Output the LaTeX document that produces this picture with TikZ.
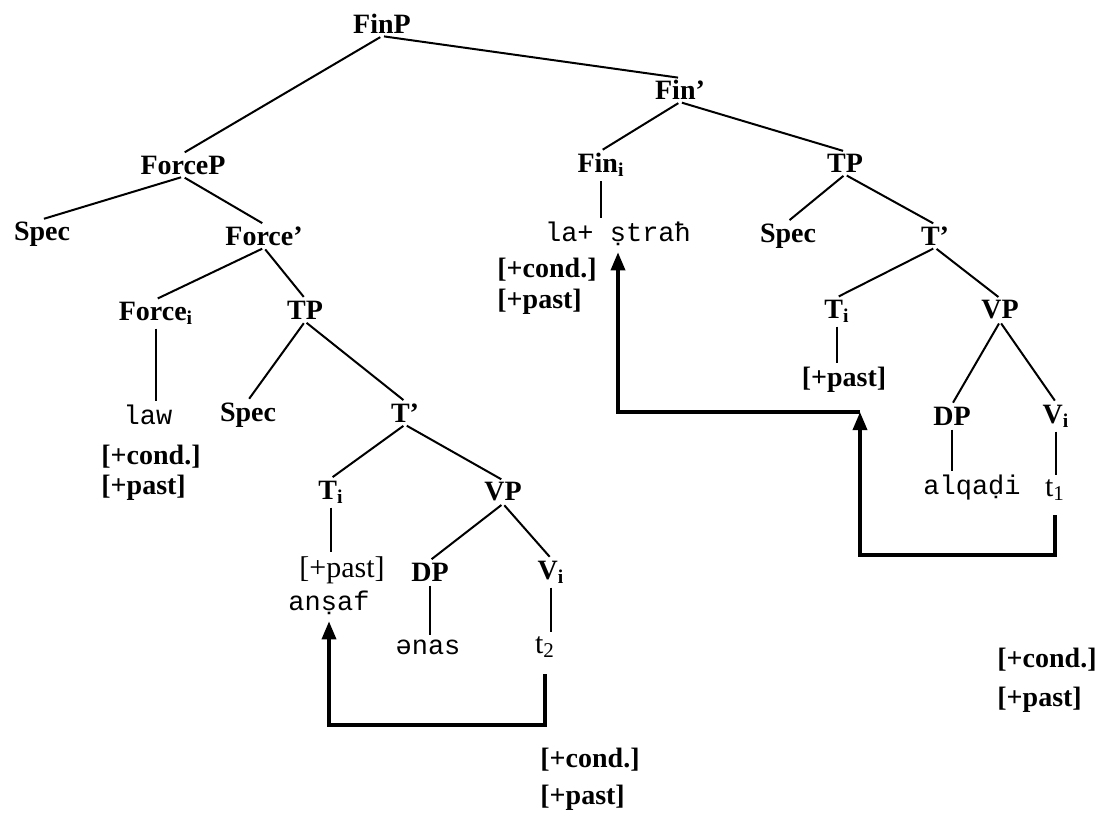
\documentclass[tikz,border=0pt]{standalone}
\usepackage{fontspec}
\setmainfont{Liberation Serif}
\newfontfamily\translit{Liberation Mono}
\usetikzlibrary{arrows.meta}
\tikzstyle{cat} = [font=\fontsize{14}{16}\selectfont\bfseries, inner sep=1pt]
\tikzstyle{word} = [font=\fontsize{13.5}{15}\selectfont\translit, inner sep=1pt]
\tikzstyle{trace} = [font=\fontsize{15}{17}\selectfont, inner sep=1pt]
\tikzstyle{feat} = [font=\fontsize{14}{16}\selectfont\bfseries, inner sep=0pt, anchor=west]
\tikzstyle{plainfeat} = [font=\fontsize{15}{17}\selectfont, inner sep=1pt]
\tikzstyle{branch} = [line width=1pt, shorten <=1pt, shorten >=1pt]
\tikzstyle{move} = [line width=1.7pt, -{Triangle[length=9pt,width=7pt]}]

\begin{document}
\begin{tikzpicture}[x=0.5pt,y=-0.5pt]
\useasboundingbox (0,0) rectangle (1108,816);

% categories
\node[cat] (finP) at (382,24) {FinP};
\node[cat] (finBar) at (680,90) {Fin’};
\node[cat] (forceP) at (183,165) {ForceP};
\node[cat] (finI) at (601,165) {Fin\textsubscript{i}};
\node[cat] (tpR) at (845,163) {TP};
\node[cat] (specL) at (42,234) {Spec};
\node[cat] (forceBar) at (264,236) {Force’};
\node[cat] (specR) at (788,236) {Spec};
\node[cat] (tBarR) at (935,236) {T’};
\node[cat] (forceI) at (156,313) {Force\textsubscript{i}};
\node[cat] (tpM) at (305,310) {TP};
\node[cat] (tiR) at (837,311) {T\textsubscript{i}};
\node[cat] (vpR) at (1000,310) {VP};
\node[cat] (specM) at (248,415) {Spec};
\node[cat] (tBarM) at (405,413) {T’};
\node[cat] (dpR) at (952,416) {DP};
\node[cat] (viR) at (1056,416) {V\textsubscript{i}};
\node[cat] (tiM) at (331,492) {T\textsubscript{i}};
\node[cat] (vpM) at (503,492) {VP};
\node[cat] (dpM) at (430,572) {DP};
\node[cat] (viM) at (551,572) {V\textsubscript{i}};

% words
\node[word] (strah) at (618,234) {la+ ṣtraħ};
\node[word] (law) at (148,415) {law};
\node[word] (alqadi) at (972,488) {alqaḍi};
\node[trace] (t1) at (1055,490) {t\textsubscript{1}};
\node[word] (anSaf) at (329,603) {anṣaf};
\node[word] (enas) at (428,647) {ənas};
\node[trace] (t2) at (545,647) {t\textsubscript{2}};

% features
\node[plainfeat] (pastM) at (342,570) {[+past]};
\node[cat] (pastTR) at (844,380) {[+past]};
\node[feat] (condFin) at (497,270) {[+cond.]};
\node[feat] (pastFin) at (497,302) {[+past]};
\node[feat] (condLaw) at (101,457) {[+cond.]};
\node[feat] (pastLaw) at (101,488) {[+past]};
\node[feat] (condL) at (540,760) {[+cond.]};
\node[feat] (pastL) at (540,798) {[+past]};
\node[feat] (condR) at (997,660) {[+cond.]};
\node[feat] (pastR) at (997,700) {[+past]};

% branches
\foreach \a/\b in {finP/forceP, finP/finBar, finBar/finI, finBar/tpR,
    forceP/specL, forceP/forceBar, forceBar/forceI, forceBar/tpM,
    tpM/specM, tpM/tBarM, tBarM/tiM, tBarM/vpM, vpM/dpM, vpM/viM,
    tpR/specR, tpR/tBarR, tBarR/tiR, tBarR/vpR, vpR/dpR, vpR/viR}{
    \draw[branch] (\a.south) -- (\b.north);
}
\foreach \a/\b in {finI/strah, forceI/law, tiR/pastTR, tiM/pastM,
    dpM/enas, viM/t2, dpR/alqadi, viR/t1}{
    \draw[branch] (\a.south) -- (\a.south |- \b.north);
}

% head movement
\coordinate (turnL) at (327,725);
\coordinate (turnR) at (860,555);
\coordinate (joint) at (860,412);
\draw[move] (t2.south) ++(0,14) |- (anSaf.south |- turnL) -- ([yshift=-2pt]anSaf.south);
\draw[move] (t1.south) ++(0,12) |- (turnR) -- (joint);
\draw[move] (joint) -| ([yshift=-2pt]strah.south);
\end{tikzpicture}
\end{document}
